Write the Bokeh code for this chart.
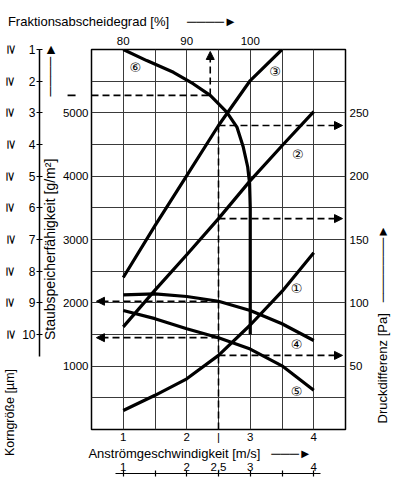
import numpy as np
from bokeh.plotting import figure
from bokeh.models import LinearAxis, Range1d, FixedTicker, Arrow, NormalHead
from bokeh.embed import file_html
from bokeh.resources import INLINE
from bokeh.core.properties import value
import math

# ---------------- data ----------------
speed = [1.0, 1.5, 2.0, 2.5, 3.0, 3.5, 4.0]
curve1 = [300, 540, 800, 1170, 1650, 2180, 2790]
curve2 = [1620, 2200, 2760, 3330, 3930, 4480, 5020]
curve3_speed = [1.0, 1.5, 2.0, 2.5, 3.0, 3.5]
curve3 = [2400, 3220, 4010, 4800, 5510, 6000]
curve4 = [2125, 2140, 2100, 2025, 1880, 1670, 1405]
curve5 = [1880, 1750, 1590, 1450, 1270, 1005, 620]
curve6_frac = [80, 83.7, 87.9, 91.0, 93.7, 96.3, 97.9, 98.9, 99.6, 99.9, 100, 100]
curve6_korn = [1, 1.35, 1.72, 2.08, 2.45, 2.98, 3.45, 4.08, 4.71, 5.24, 6, 10]

curve_names = ["①", "②", "③", "④", "⑤", "⑥"]
name_x = [3.73, 3.75, 3.39, 3.73, 3.73, 1.19]
name_y = [2220, 4350, 5650, 1340, 600, 5720]

staub_ticks = [1000, 2000, 3000, 4000, 5000]
druck_ticks = [50, 100, 150, 200, 250]
frac_ticks = [80, 90, 100]
speed_ticks = [1, 2, 2.5, 3, 4]
speed_labels = ["1", "2", "|", "3", "4"]
speed2_ticks = [1, 2, 2.5, 3, 4]
speed2_labels = ["1", "2", "2,5", "3", "4"]
speed2_marks = [1, 1.5, 2, 2.5, 3, 3.5, 4]
korn_ticks = [1, 2, 3, 4, 5, 6, 7, 8, 9, 10]

read_speed = 2.5
read_korn = 2.45

FONT = "Liberation Sans"
NB = "\u00a0"
LINE = "\u2500"
HEAD = "\u25ba"
KSYM = "\u22dc"   # drawn turned, it shows the rotated "≧" of the original scale

title_top = "Fraktionsabscheidegrad [%]" + NB * 5 + LINE * 4 + HEAD
title_bottom = "Anströmgeschwindigkeit [m/s]" + NB * 3 + LINE * 3 + HEAD
title_right = "Druckdifferenz [Pa]" + NB * 3 + LINE * 7 + HEAD
title_left = "Staubspeicherfähigkeit [g/m²]" + NB * 16 + LINE * 4 + HEAD
title_korn = "Korngröße [µm]"

# page-pixel -> data helpers (text positions outside the frame)
def sx(px):
    return round(0.5 + (px - 91) * 4.0 / 255, 3)

def sfrac(px):
    return round(70 + 10 * sx(px), 2)

def sy(py):
    return round((429 - py) * 6000.0 / 380, 1)

def skorn(py):
    return round(1 + (py - 49) * 12.0 / 380, 3)

def sdruck(py):
    return round((429 - py) * 300.0 / 380, 2)

p = figure(width=400, height=489, x_range=Range1d(0.5, 4.5), y_range=Range1d(0, 6000),
           output_backend="svg", toolbar_location=None,
           min_border_left=91, min_border_right=54, min_border_top=49, min_border_bottom=60)
p.extra_x_ranges = {"frac": Range1d(75, 115)}
p.extra_y_ranges = {"druck": Range1d(0, 300), "korn": Range1d(13, 1)}
p.outline_line_color = "black"
p.outline_line_width = 1.5
p.background_fill_color = "white"
p.border_fill_color = "white"

# grid
p.xgrid.ticker = FixedTicker(ticks=[1.0, 1.5, 2.0, 2.5, 3.0, 3.5, 4.0])
p.ygrid.ticker = FixedTicker(ticks=[500, 1000, 1500, 2000, 2500, 3000, 3500, 4000, 4500, 5000, 5500])
for g in (p.xgrid, p.ygrid):
    g.grid_line_color = "#3a3a3a"
    g.grid_line_width = 1

def plain_axis(ax, fs="11.5px", standoff=3, font=FONT):
    ax.axis_line_color = None
    ax.major_tick_line_color = None
    ax.minor_tick_line_color = None
    ax.major_tick_out = 0
    ax.major_tick_in = 0
    ax.minor_tick_out = 0
    ax.minor_tick_in = 0
    ax.major_label_text_font = font
    ax.major_label_text_font_size = fs
    ax.major_label_text_color = "black"
    ax.major_label_standoff = standoff

def text_axis(side, ticks, labels, standoff, orientation="horizontal", fs="13px", font=FONT, **kw):
    ax = LinearAxis(ticker=FixedTicker(ticks=ticks),
                    major_label_overrides={t: l for t, l in zip(ticks, labels)}, **kw)
    plain_axis(ax, fs=fs, standoff=standoff, font=font)
    ax.major_label_orientation = orientation
    p.add_layout(ax, side)
    return ax

# ---- left side ----
ya = p.left[0]
ya.ticker = FixedTicker(ticks=staub_ticks)
plain_axis(ya, standoff=3)

# Staub title (with its direction arrow)
text_axis("left", [sy(191)], [title_left], standoff=1, orientation="vertical", fs="14px")

# spacer before the Korngröße scale
sp = LinearAxis(ticker=FixedTicker(ticks=[]))
plain_axis(sp)
sp.major_tick_out = 9
p.add_layout(sp, "left")

# Korngröße scale
ka = LinearAxis(y_range_name="korn", ticker=FixedTicker(ticks=korn_ticks), bounds=(1, 10.7))
ka.axis_line_color = "black"
ka.axis_line_width = 1.5
ka.major_tick_line_color = "black"
ka.major_tick_line_width = 1.2
ka.major_tick_in = 3
ka.major_tick_out = 3
ka.minor_tick_line_color = None
ka.minor_tick_out = 0
ka.minor_tick_in = 0
ka.major_label_text_font = FONT
ka.major_label_text_font_size = "12px"
ka.major_label_text_color = "black"
ka.major_label_standoff = 1
p.add_layout(ka, "left")

# turned symbols + Korngröße title
k_ticks = korn_ticks + [skorn(412)]
k_labels = [KSYM] * len(korn_ticks) + [title_korn]
text_axis("left", k_ticks, k_labels, standoff=2, orientation="vertical",
          fs="12.5px", y_range_name="korn")

# ---- right side ----
ra = LinearAxis(y_range_name="druck", ticker=FixedTicker(ticks=druck_ticks))
plain_axis(ra, standoff=4)
p.add_layout(ra, "right")
text_axis("right", [sdruck(423)], [title_right], standoff=11, orientation=math.pi / 2,
          y_range_name="druck")

# ---- top ----
ta = LinearAxis(x_range_name="frac", ticker=FixedTicker(ticks=frac_ticks))
plain_axis(ta, standoff=5)
p.add_layout(ta, "above")
text_axis("above", [sx(122)], [title_top], standoff=5)

# ---- bottom ----
xa = p.below[0]
xa.ticker = FixedTicker(ticks=speed_ticks)
xa.major_label_overrides = {t: l for t, l in zip(speed_ticks, speed_labels)}
plain_axis(xa, standoff=1)
text_axis("below", [sx(200)], [title_bottom], standoff=0)
text_axis("below", speed2_ticks, speed2_labels, standoff=-1, fs="11.5px")

# second speed scale: line with tick marks (minor ticks carry no labels)
xc = LinearAxis(ticker=FixedTicker(ticks=[], minor_ticks=speed2_marks), bounds=(0.88, 4.1))
xc.axis_line_color = "black"
xc.axis_line_width = 1.2
xc.major_tick_line_color = None
xc.major_tick_in = 0
xc.major_tick_out = 0
xc.minor_tick_line_color = "black"
xc.minor_tick_line_width = 1.2
xc.minor_tick_in = 3
xc.minor_tick_out = 3
p.add_layout(xc, "below")

# ---- curves ----
LW = 3.2
p.line(speed, curve1, line_width=LW, color="black", line_join="round")
p.line(speed, curve2, line_width=LW, color="black", line_join="round")
p.line(curve3_speed, curve3, line_width=LW, color="black", line_join="round")
p.line(speed, curve4, line_width=LW, color="black", line_join="round")
p.line(speed, curve5, line_width=LW, color="black", line_join="round")
p.line(curve6_frac, curve6_korn, x_range_name="frac", y_range_name="korn",
       line_width=LW, color="black", line_join="round")

p.text(x=name_x, y=name_y, text=curve_names, text_font=value("DejaVu Sans"),
       text_font_size="13px", text_align="center", text_baseline="middle", text_color="black")

# ---- reading lines ----
DASH = "7 4"
def head():
    return NormalHead(size=8, fill_color="black", line_color="black", line_width=1)

y3 = float(np.interp(read_speed, curve3_speed, curve3))
y2 = float(np.interp(read_speed, speed, curve2))
y1 = float(np.interp(read_speed, speed, curve1))
y4 = float(np.interp(read_speed, speed, curve4))
y5 = float(np.interp(read_speed, speed, curve5))

p.add_layout(Arrow(end=None, x_start=read_speed, y_start=0, x_end=read_speed, y_end=y3,
                   line_dash=DASH, line_width=1.6, line_color="black"))
for yy in (y3, y2, y1):
    p.add_layout(Arrow(end=head(), x_start=read_speed, y_start=yy, x_end=sx(343), y_end=yy,
                       line_dash=DASH, line_width=1.6, line_color="black"))
for yy in (y4, y5):
    p.add_layout(Arrow(end=head(), x_start=read_speed, y_start=yy, x_end=sx(96), y_end=yy,
                       line_dash=DASH, line_width=1.6, line_color="black"))

read_frac = float(np.interp(read_korn, curve6_korn, curve6_frac))
p.add_layout(Arrow(end=None, x_start=75, y_start=read_korn, x_end=read_frac, y_end=read_korn,
                   x_range_name="frac", y_range_name="korn",
                   line_dash=DASH, line_width=1.6, line_color="black"))
p.add_layout(Arrow(end=head(), x_start=sfrac(58), y_start=read_korn, x_end=sfrac(75), y_end=read_korn,
                   x_range_name="frac", y_range_name="korn", line_width=1.6, line_color="black"))
p.add_layout(Arrow(end=head(), x_start=read_frac, y_start=read_korn, x_end=read_frac, y_end=skorn(51),
                   x_range_name="frac", y_range_name="korn",
                   line_dash=DASH, line_width=1.6, line_color="black"))

open("out.html", "w").write(file_html(p, INLINE))
